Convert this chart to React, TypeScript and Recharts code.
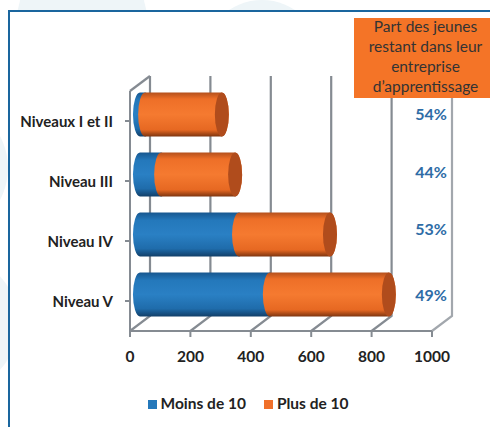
import { BarChart, Bar, XAxis, YAxis, CartesianGrid, Legend } from 'recharts'

const categories = ['Niveaux I et II', 'Niveau III', 'Niveau IV', 'Niveau V']
const moinsDe10 = [17, 70, 328, 430]
const plusDe10 = [254, 245, 301, 394]
const xTicks = [0, 200, 400, 600, 800, 1000]
const shares = ['54%', '44%', '53%', '49%']
const shareTops = [104, 162, 219, 285]
const boxLines = ['Part des jeunes', 'restant dans leur', 'entreprise', 'd’apprentissage']

const data = categories.map((name, i) => ({ name, moins: moinsDe10[i], plus: plusDe10[i] }))

const FONT = 'Lato, "Open Sans", sans-serif'
const WALL = '#858b92'
const PALE = '#eef5f8'
// depth of the fake 3D box, and how far the bars sit inside it
const DX = 20
const DY = 15
const BAR_DX = 10
const BAR_DY = -6.5
const RX = 7

function Cylinder({ x, y, width, height, fill, cap }: any) {
  const left = x + BAR_DX
  const top = y + BAR_DY
  const right = left + width
  const ry = height / 2
  return (
    <g>
      <path
        d={`M${left},${top} L${right},${top} A${RX},${ry} 0 0 1 ${right},${top + height} L${left},${top + height} A${RX},${ry} 0 0 1 ${left},${top} Z`}
        fill={fill}
      />
      {cap && <ellipse cx={right} cy={top + ry} rx={RX} ry={ry} fill={cap} />}
    </g>
  )
}

// back wall line plus the short diagonal on the floor for one x tick
function BackWall({ x1, y1, y2, index }: any) {
  const last = index === xTicks.length - 1
  return (
    <g fill="none" strokeWidth={2.2}>
      <path d={`M${x1},${y2} L${x1 + DX},${y2 - DY} L${x1 + DX},${y1 - DY}`} stroke={last ? '#a2a7ad' : WALL} />
      {/* top edge of the left wall */}
      {index === 0 && <path d={`M${x1},${y1} L${x1 + DX},${y1 - DY}`} stroke={WALL} />}
    </g>
  )
}

function Blob({ cx, cy, r }: { cx: number; cy: number; r: number }) {
  return <div style={{ position: 'absolute', left: cx - r, top: cy - r, width: r * 2, height: r * 2, borderRadius: '50%', background: PALE }} />
}

export default function App() {
  return (
    <div style={{ position: 'absolute', left: 0, top: 0, width: 490, height: 427, overflow: 'hidden', background: '#fff', fontFamily: FONT }}>
      {/* pale background shapes showing around the frame */}
      <Blob cx={82} cy={20} r={65} />
      <Blob cx={262} cy={59} r={59} />
      <Blob cx={-60} cy={168} r={68} />
      <Blob cx={-52} cy={323} r={70} />

      <div style={{ position: 'absolute', left: 8, top: 10, width: 490, height: 430, background: '#fff', borderLeft: '2.5px solid #1a669e', borderTop: '2.5px solid #1a669e', boxSizing: 'border-box' }} />

      <BarChart
        width={490}
        height={427}
        data={data}
        layout="vertical"
        barSize={44}
        margin={{ top: 91, right: 58, bottom: 46, left: 20 }}
        style={{ position: 'absolute', left: 0, top: 0 }}
      >
        <defs>
          <linearGradient id="blueBody" x1="0" y1="0" x2="0" y2="1">
            <stop offset="0%" stopColor="#17578f" />
            <stop offset="18%" stopColor="#2478bb" />
            <stop offset="50%" stopColor="#2a80c4" />
            <stop offset="82%" stopColor="#1f6cab" />
            <stop offset="100%" stopColor="#123f69" />
          </linearGradient>
          <linearGradient id="orangeBody" x1="0" y1="0" x2="0" y2="1">
            <stop offset="0%" stopColor="#b4501c" />
            <stop offset="15%" stopColor="#ee6f28" />
            <stop offset="50%" stopColor="#f57a30" />
            <stop offset="85%" stopColor="#e66822" />
            <stop offset="100%" stopColor="#7e3510" />
          </linearGradient>
        </defs>
        <CartesianGrid horizontal={false} vertical={BackWall} verticalValues={xTicks} />
        <XAxis
          type="number"
          domain={[0, 1000]}
          ticks={xTicks}
          height={30}
          interval={0}
          tickSize={6}
          tickMargin={14}
          stroke={WALL}
          strokeWidth={2}
          tick={{ fontSize: 15.5, fontWeight: 700, fill: '#222', fontFamily: FONT }}
        />
        <YAxis
          type="category"
          dataKey="name"
          width={110}
          tickSize={5}
          tickMargin={12}
          stroke={WALL}
          strokeWidth={2}
          tick={{ fontSize: 15, fontWeight: 700, fill: '#222', fontFamily: FONT, dy: 1 }}
        />
        <Legend
          verticalAlign="bottom"
          iconType="square"
          iconSize={9}
          height={20}
          formatter={(v: string) => <span style={{ color: '#222', fontSize: 15.5, fontWeight: 700, fontFamily: FONT, marginRight: 8 }}>{v}</span>}
          wrapperStyle={{ left: 9, bottom: 14, width: 496 }}
        />
        <Bar
          dataKey="moins"
          name="Moins de 10"
          stackId="a"
          fill="#2478bb"
          isAnimationActive={false}
          shape={(p: any) => <Cylinder {...p} fill="url(#blueBody)" />}
        />
        <Bar
          dataKey="plus"
          name="Plus de 10"
          stackId="a"
          fill="#f0702a"
          isAnimationActive={false}
          shape={(p: any) => <Cylinder {...p} fill="url(#orangeBody)" cap="#b04c1c" />}
        />
      </BarChart>

      {shares.map((s, i) => (
        <div key={s} style={{ position: 'absolute', left: 400, width: 62, top: shareTops[i], textAlign: 'center', color: '#2e6ca6', fontSize: 16, fontWeight: 700, lineHeight: '20px' }}>
          {s}
        </div>
      ))}

      <div style={{ position: 'absolute', left: 354, top: 18, width: 136, height: 80, paddingLeft: 7, boxSizing: 'border-box', background: '#f47427', color: '#333', fontSize: 15.5, lineHeight: '20px', textAlign: 'center' }}>
        <div style={{ marginTop: -2 }}>
          {boxLines.map(l => <div key={l}>{l}</div>)}
        </div>
      </div>
    </div>
  )
}
